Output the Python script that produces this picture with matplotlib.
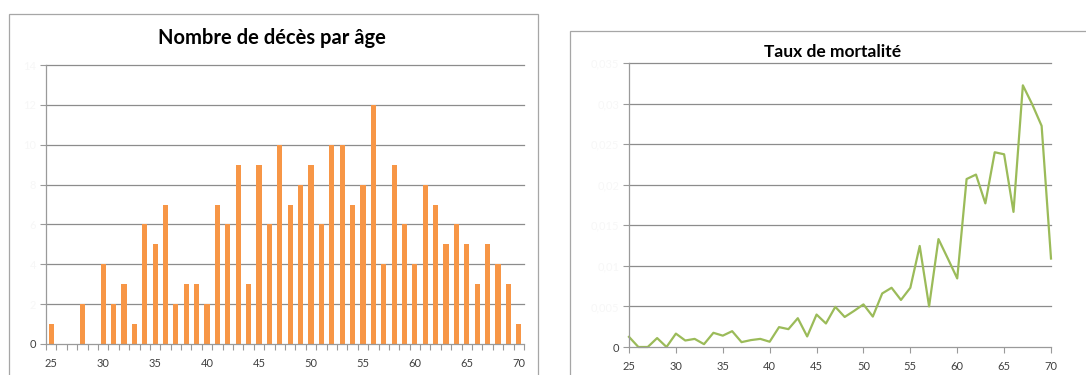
import numpy as np
import matplotlib
matplotlib.use('Agg')
import matplotlib.pyplot as plt
from matplotlib.patches import Rectangle

plt.rcParams['font.family'] = ['Lato', 'DejaVu Sans']

# ages 25..70
ages = list(range(25, 71))

# nombre de deces par age
deces = [1, 0, 0, 2, 0, 4, 2, 3, 1, 6,
         5, 7, 2, 3, 3, 2, 7, 6, 9, 3,
         9, 6, 10, 7, 8, 9, 6, 10, 10, 7,
         8, 12, 4, 9, 6, 4, 8, 7, 5, 6,
         5, 3, 5, 4, 3, 1]

# taux de mortalite par age
taux = [0.00125, 0.0, 0.0, 0.0011, 0.0, 0.00165, 0.0008, 0.001, 0.00035, 0.00175,
        0.0014, 0.00195, 0.0006, 0.00085, 0.001, 0.00065, 0.00245, 0.0022, 0.00355, 0.0013,
        0.004, 0.0029, 0.00495, 0.0037, 0.00445, 0.00525, 0.00375, 0.0066, 0.0073, 0.0058,
        0.0073, 0.01245, 0.005, 0.0133, 0.0109, 0.00845, 0.0207, 0.02125, 0.0177, 0.024,
        0.02375, 0.01665, 0.03225, 0.0299, 0.02725, 0.0109]

deces_ticks = list(range(0, 15, 2))
taux_ticks = [0, 0.005, 0.01, 0.015, 0.02, 0.025, 0.03, 0.035]
taux_labels = ['0', '0,005', '0,01', '0,015', '0,02', '0,025', '0,03', '0,035']

W, H = 1086, 375
fig = plt.figure(figsize=(W / 100, H / 100), dpi=100)
fig.patch.set_facecolor('white')

grid_c = '#8c8c8c'
axis_c = '#9a9a9a'
text_c = '#404040'
faint_c = '#f7f7f7'


def px_axes(x0, y0, x1, y1):
    return fig.add_axes([x0 / W, 1 - y1 / H, (x1 - x0) / W, (y1 - y0) / H])


def style_axes(ax, ticks, labels):
    ax.set_facecolor('none')
    for s in ['top', 'right']:
        ax.spines[s].set_visible(False)
    ax.spines['left'].set_color(axis_c)
    ax.spines['bottom'].set_color(axis_c)
    ax.spines['left'].set_linewidth(0.9)
    ax.spines['bottom'].set_linewidth(0.9)
    for t in ticks[1:]:
        ax.axhline(t, color=grid_c, lw=0.9, clip_on=False, zorder=0)
    ax.set_yticks(ticks)
    ax.set_yticklabels(labels)
    ax.set_ylim(ticks[0], ticks[-1])
    ax.tick_params(axis='y', length=4, width=0.8, color=axis_c, labelsize=8, pad=3)
    ax.tick_params(axis='x', length=4, width=0.8, color=axis_c, labelsize=8,
                   labelcolor=text_c, pad=6)
    for i, lab in enumerate(ax.get_yticklabels()):
        lab.set_color(text_c if i == 0 else faint_c)


# chart frames
fig.add_artist(Rectangle((9 / W, -0.05), (538 - 9) / W, 1 - 14 / H + 0.05,
                         transform=fig.transFigure, fill=False, ec='#a6a6a6', lw=0.9))
fig.add_artist(Rectangle((570 / W, -0.05), 0.5, 1 - 31 / H + 0.05,
                         transform=fig.transFigure, fill=False, ec='#a6a6a6', lw=0.9))

# --- Nombre de deces par age ---
ax1 = px_axes(46, 65, 524, 344)
ax1.bar(ages, deces, width=0.5, color='#F79646', zorder=2)
ax1.set_xlim(ages[0] - 0.5, ages[-1] + 0.5)
style_axes(ax1, deces_ticks, [str(v) for v in deces_ticks])
ax1.set_xticks([a for a in ages if a % 5 == 0])
ax1.set_xticks(np.arange(ages[0] - 0.5, ages[-1] + 1, 1), minor=True)
ax1.tick_params(axis='x', which='major', length=0, pad=10)
ax1.tick_params(axis='x', which='minor', length=4, width=0.8, color=axis_c)
fig.text(272 / W, 1 - 38 / H, 'Nombre de décès par âge', ha='center', va='center',
         fontsize=14.5, fontweight='bold', color='black')

# --- Taux de mortalite ---
ax2 = px_axes(629, 63, 1051, 347)
ax2.plot(ages, taux, color='#9BBB59', lw=1.6, zorder=2, clip_on=False)
ax2.set_xlim(ages[0], ages[-1])
style_axes(ax2, taux_ticks, taux_labels)
ax2.set_xticks([a for a in ages if a % 5 == 0])
fig.text(833 / W, 1 - 52 / H, 'Taux de mortalité', ha='center', va='center',
         fontsize=12.5, fontweight='bold', color='black')

fig.savefig('out.png', dpi=100)
